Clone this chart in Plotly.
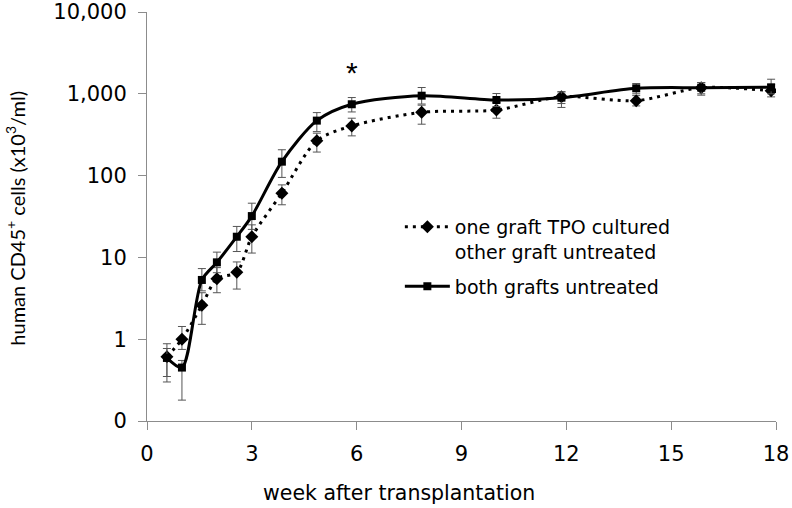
import plotly.graph_objects as go

weeks = [0.57, 1.0, 1.57, 2.0, 2.57, 3.0, 3.86, 4.86, 5.86, 7.86, 10.0, 11.86, 14.0, 15.86, 17.86]

# one graft TPO cultured / other graft untreated (diamonds, dotted)
tpo_mean = [0.61, 1.0, 2.6, 5.5, 6.6, 17.9, 61, 267, 404, 594, 634, 922, 824, 1188, 1091]
tpo_upper = [0.77, 1.43, 3.7, 7.5, 8.8, 25, 77, 330, 503, 726, 780, 1060, 950, 1374, 1300]
tpo_lower = [0.30, 0.75, 1.52, 3.7, 4.1, 11.3, 44, 194, 306, 425, 503, 681, 711, 962, 917]

# both grafts untreated (squares, solid)
unt_mean = [0.59, 0.45, 5.3, 8.7, 17.9, 32, 148, 470, 745, 948, 840, 897, 1167, 1188, 1200]
unt_upper = [0.88, 0.55, 7.3, 11.6, 23.9, 46, 207, 589, 900, 1194, 1008, 1055, 1336, 1374, 1507]
unt_lower = [0.35, 0.18, 3.9, 6.5, 11.8, 22, 95, 345, 600, 750, 700, 760, 1000, 1000, 1000]

ytick_vals = [0.1, 1, 10, 100, 1000, 10000]
ytick_text = ["0", "1", "10", "100", "1,000", "10,000"]
xtick_vals = [0, 3, 6, 9, 12, 15, 18]

def err(mean, up, lo):
    return dict(type="data", symmetric=False,
                array=[u - m for u, m in zip(up, mean)],
                arrayminus=[m - l for m, l in zip(mean, lo)],
                color="#555555", thickness=1, width=4)

fig = go.Figure()
fig.add_trace(go.Scatter(
    x=weeks, y=tpo_mean, mode="lines+markers",
    name="one graft TPO cultured<br>other graft untreated",
    legendgroup="a",
    line=dict(color="black", width=3, dash="3px,5px", shape="spline", smoothing=0.8),
    marker=dict(symbol="diamond", size=10, color="black"),
    error_y=err(tpo_mean, tpo_upper, tpo_lower),
))
fig.add_trace(go.Scatter(
    x=weeks, y=unt_mean, mode="lines+markers",
    name="both grafts untreated",
    legendgroup="b",
    line=dict(color="black", width=3, shape="spline", smoothing=0.8),
    marker=dict(symbol="square", size=8, color="black"),
    error_y=err(unt_mean, unt_upper, unt_lower),
))

fig.add_annotation(x=5.86, y=3.26, text="*", showarrow=False,
                   font=dict(family="Liberation Sans, Arial", size=30, color="black"))
fig.add_annotation(xref="paper", yref="paper", x=-0.209, y=0.496,
                   xanchor="center", yanchor="middle", textangle=-90, showarrow=False,
                   text="human CD45<sup>+</sup> cells (x10<sup>3</sup>/ml)",
                   font=dict(family="Lato, Open Sans, sans-serif", size=20, color="black"))
fig.add_annotation(xref="paper", yref="paper", x=0.401, y=-0.176,
                   xanchor="center", yanchor="middle", showarrow=False,
                   text="week after transplantation",
                   font=dict(family="DejaVu Sans", size=20.5, color="black"))

tick_font = dict(family="DejaVu Sans", size=21, color="black")
fig.update_layout(
    width=792, height=508,
    margin=dict(l=147, r=16, t=12, b=87),
    paper_bgcolor="white", plot_bgcolor="white",
    showlegend=True,
    legend=dict(x=0.402, y=0.521, xanchor="left", yanchor="top",
                font=dict(family="DejaVu Sans", size=19, color="black"),
                bgcolor="rgba(0,0,0,0)", traceorder="grouped", tracegroupgap=7,
                valign="top", itemwidth=45),
    xaxis=dict(range=[0, 18], tickvals=xtick_vals, showgrid=False, zeroline=False,
               automargin=False,
               showline=True, linecolor="#8c8c8c", linewidth=1,
               ticks="outside", ticklen=8, tickcolor="#8c8c8c",
               tickfont=tick_font, ticklabelstandoff=6, ticklabeloverflow="allow"),
    yaxis=dict(type="log", range=[-1, 4], tickvals=ytick_vals, ticktext=ytick_text,
               showgrid=False, zeroline=False, automargin=False,
               showline=True, linecolor="#8c8c8c", linewidth=1,
               ticks="outside", ticklen=8, tickcolor="#8c8c8c",
               tickfont=tick_font, ticklabelstandoff=7, ticklabeloverflow="allow"),
)

fig.write_html("out.html", config={"displayModeBar": False},
               post_script="document.body.style.margin='0';")
